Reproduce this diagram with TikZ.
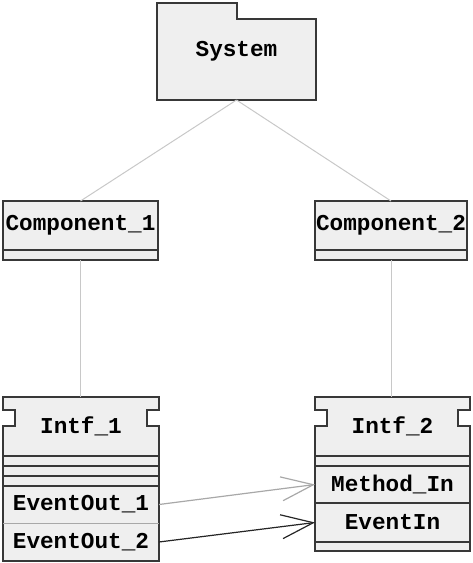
\documentclass[tikz,border=0pt]{standalone}
\usepackage{fontspec}
\newfontfamily\umlfont{Liberation Mono}
\usetikzlibrary{arrows.meta,backgrounds}
\definecolor{boxfill}{HTML}{EFEFEF}
\definecolor{boxline}{HTML}{383838}
\definecolor{linkgray}{HTML}{C8C8C8}
\definecolor{sendgray}{HTML}{A8A8A8}
\tikzset{
    every node/.style={align=center,inner sep=0pt,outer sep=0pt,
        font=\umlfont\bfseries\fontsize{22.7}{26}\selectfont},
    part/.style={draw=boxline,fill=boxfill,line width=1.5pt,anchor=north west},
    slot/.style={fill=boxfill,draw=none,anchor=north west},
    iface/.style={draw=none,anchor=north west,minimum height=59pt},
    frame/.style={draw=boxline,fill=boxfill,line width=1.5pt},
    link/.style={draw=linkgray,line width=1pt},
    send/.style={line width=1.2pt,-{Straight Barb[length=32pt,width=24pt]}},
}

\begin{document}
\begin{tikzpicture}[x=1pt,y=-1pt]
                \useasboundingbox (0,0) rectangle (472,563);

                \node[iface, minimum width=159pt, minimum height=97pt] (system) at (157,3) {System};

                \node[part, minimum width=155pt, minimum height=49pt] (comp1) at (3,201) {Component\_1};
                \node[part, minimum width=155pt, minimum height=10pt] (comp1attr) at (comp1.south west) {};
                \node[part, minimum width=152pt, minimum height=49pt] (comp2) at (315,201) {Component\_2};
                \node[part, minimum width=152pt, minimum height=10pt] (comp2attr) at (comp2.south west) {};

                \node[iface, minimum width=156pt] (intf1) at (3,397) {Intf\_1};
                \node[part, minimum width=156pt, minimum height=10pt] (intf1a) at (intf1.south west) {};
                \node[part, minimum width=156pt, minimum height=10pt] (intf1b) at (intf1a.south west) {};
                \node[part, minimum width=156pt, minimum height=10pt] (intf1c) at (intf1b.south west) {};
                \node[slot, minimum width=156pt, minimum height=37pt] (evout1) at (intf1c.south west) {EventOut\_1};
                \node[slot, minimum width=156pt, minimum height=38pt] (evout2) at (evout1.south west) {EventOut\_2};
                \draw[frame, fill=none] (evout1.north west) rectangle (evout2.south east);
                \draw[draw=sendgray, line width=1pt] (evout1.south west) -- (evout1.south east);

                \node[iface, minimum width=155pt] (intf2) at (315,397) {Intf\_2};
                \node[part, minimum width=155pt, minimum height=10pt] (intf2attr) at (intf2.south west) {};
                \node[part, minimum width=155pt, minimum height=37pt] (methodin) at (intf2attr.south west) {Method\_In};
                \node[part, minimum width=155pt, minimum height=39pt] (eventin) at (methodin.south west) {EventIn};
                \node[part, minimum width=155pt, minimum height=9pt] (intf2tail) at (eventin.south west) {};

                % package and interface outlines go under the names
                \begin{scope}[on background layer]
                    \filldraw[frame] (system.south west) -- (system.north west) -- ++(80,0) -- ++(0,16)
                        -- ++(79,0) -- (system.south east) -- cycle;
                    \foreach \i in {intf1,intf2}
                        \filldraw[frame] (\i.north west) -- (\i.north east) -- ++(0,13) -- ++(-12,0) -- ++(0,16)
                            -- ++(12,0) -- (\i.south east) -- (\i.south west) -- ++(0,-30) -- ++(12,0)
                            -- ++(0,-16) -- ++(-12,0) -- cycle;
                \end{scope}

                \draw[link] (system.south) -- (comp1.north);
                \draw[link] (system.south) -- (comp2.north);
                \draw[link] (comp1attr.south) -- (comp1attr.south |- intf1.north);
                \draw[link] (comp2attr.south) -- (comp2attr.south |- intf2.north);

                \draw[send, draw=sendgray] (evout1.east) -- (methodin.west);
                \draw[send, draw=black!85] (evout2.east) -- (eventin.west);
            \end{tikzpicture}
\end{document}
